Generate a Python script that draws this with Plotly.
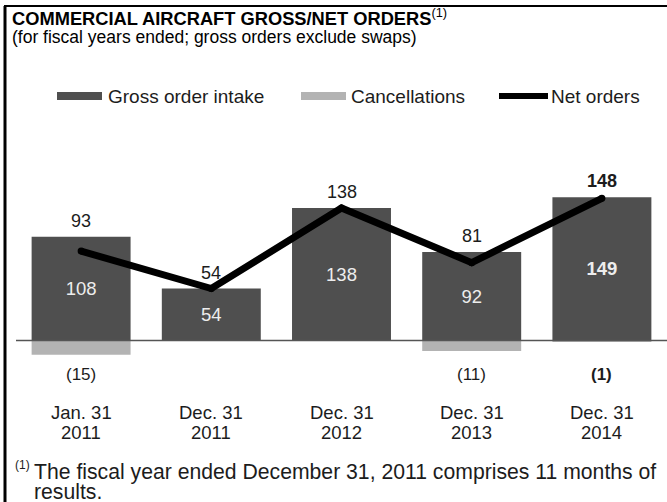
import plotly.graph_objects as go

# Fiscal periods (category keys) and their two-line tick labels
periods = ["Jan. 31 2011", "Dec. 31 2011", "Dec. 31 2012", "Dec. 31 2013", "Dec. 31 2014"]
period_day = ["Jan. 31", "Dec. 31", "Dec. 31", "Dec. 31", "Dec. 31"]
period_year = ["2011", "2011", "2012", "2013", "2014"]

# Orders (number of aircraft)
gross_orders = [108, 54, 138, 92, 149]
cancellations = [-15, 0, 0, -11, -1]
net_orders = [93, 54, 138, 81, 148]

W, H = 667, 502
FONT = "Liberation Sans, Arial, sans-serif"
INK = "#1c1c1c"
DARK = "#4f4f4f"
LIGHT = "#b3b3b3"


def px(x):
    """Pixel x -> paper x."""
    return x / W


def py(y):
    """Pixel y (from top) -> paper y."""
    return 1 - y / H


def bold_last(values, fmt="{}"):
    out = [fmt.format(v) for v in values]
    out[-1] = "<b>" + out[-1] + "</b>"
    return out


fig = go.Figure()

fig.add_trace(go.Bar(
    x=periods, y=gross_orders, name="Gross order intake",
    marker=dict(color=DARK, line=dict(width=0)), width=0.76,
    text=bold_last(gross_orders), textposition="inside",
    insidetextanchor="middle", textangle=0,
    textfont=dict(family=FONT, size=18.5, color="#ededed"),
    showlegend=False, hoverinfo="skip",
))
fig.add_trace(go.Bar(
    x=periods, y=cancellations, name="Cancellations",
    marker=dict(color=LIGHT, line=dict(width=0)), width=0.76,
    showlegend=False, hoverinfo="skip",
))
fig.add_trace(go.Scatter(
    x=periods, y=net_orders, name="Net orders", mode="lines+markers",
    line=dict(color="black", width=7),
    marker=dict(color="black", size=7),
    showlegend=False, hoverinfo="skip",
))

annotations = []

# Net order values above each column
net_text = bold_last(net_orders)
for p, g, n, t in zip(periods, gross_orders, net_orders, net_text):
    annotations.append(dict(
        x=p, y=max(g, n), xref="x", yref="y", text=t, showarrow=False,
        yanchor="middle", yshift=16, font=dict(family=FONT, size=18, color=INK),
    ))

# Cancellation values below the baseline
cancel_text = ["" if c == 0 else "({})".format(-c) for c in cancellations]
cancel_text[-1] = "<b>" + cancel_text[-1] + "</b>" if cancel_text[-1] else ""
for p, t in zip(periods, cancel_text):
    if t:
        annotations.append(dict(
            x=p, y=0, xref="x", yref="y", text=t, showarrow=False,
            yanchor="middle", yshift=-34, font=dict(family=FONT, size=17, color=INK),
        ))

# Two-line period labels
for p, d, yr in zip(periods, period_day, period_year):
    annotations.append(dict(x=p, y=py(412), xref="x", yref="paper", text=d,
                            showarrow=False, yanchor="middle",
                            font=dict(family=FONT, size=18.5, color=INK)))
    annotations.append(dict(x=p, y=py(432), xref="x", yref="paper", text=yr,
                            showarrow=False, yanchor="middle",
                            font=dict(family=FONT, size=18.5, color=INK)))

# Title and subtitle
annotations.append(dict(
    x=px(10), y=py(17), xref="paper", yref="paper", xanchor="left", yanchor="middle",
    text="<b>COMMERCIAL AIRCRAFT GROSS/NET ORDERS</b><sup>(1)</sup>", showarrow=False,
    font=dict(family=FONT, size=18.3, color="black"),
))
annotations.append(dict(
    x=px(10), y=py(37), xref="paper", yref="paper", xanchor="left", yanchor="middle",
    text="(for fiscal years ended; gross orders exclude swaps)", showarrow=False,
    font=dict(family=FONT, size=17.5, color="black"),
))

# Legend
legend_y = 96
annotations += [
    dict(x=px(106), y=py(legend_y), xref="paper", yref="paper", xanchor="left",
         yanchor="middle", text="Gross order intake", showarrow=False,
         font=dict(family=FONT, size=19, color=INK)),
    dict(x=px(349), y=py(legend_y), xref="paper", yref="paper", xanchor="left",
         yanchor="middle", text="Cancellations", showarrow=False,
         font=dict(family=FONT, size=19, color=INK)),
    dict(x=px(549), y=py(legend_y), xref="paper", yref="paper", xanchor="left",
         yanchor="middle", text="Net orders", showarrow=False,
         font=dict(family=FONT, size=19, color=INK)),
]

# Footnote
annotations += [
    dict(x=px(13), y=py(465), xref="paper", yref="paper", xanchor="left",
         yanchor="middle", text="(1)", showarrow=False,
         font=dict(family=FONT, size=12, color=INK)),
    dict(x=px(32), y=py(472), xref="paper", yref="paper", xanchor="left",
         yanchor="middle",
         text="The fiscal year ended December 31, 2011 comprises 11 months of",
         showarrow=False, font=dict(family=FONT, size=21.2, color=INK)),
    dict(x=px(32), y=py(491), xref="paper", yref="paper", xanchor="left",
         yanchor="middle", text="results.", showarrow=False,
         font=dict(family=FONT, size=21.2, color=INK)),
]

shapes = [
    # Baseline
    dict(type="line", xref="x domain", yref="y", x0=0, x1=1, y0=0, y1=0,
         line=dict(color="#555555", width=1.5), layer="above"),
    # Frame (left and top edges)
    dict(type="line", xref="paper", yref="paper", x0=px(5), x1=px(5), y0=py(6), y1=0,
         line=dict(color="black", width=3)),
    dict(type="line", xref="paper", yref="paper", x0=px(4), x1=1, y0=py(6), y1=py(6),
         line=dict(color="black", width=2)),
    # Legend swatches
    dict(type="rect", xref="paper", yref="paper", x0=px(57), x1=px(102),
         y0=py(100), y1=py(92), fillcolor=DARK, line=dict(width=0)),
    dict(type="rect", xref="paper", yref="paper", x0=px(301), x1=px(346),
         y0=py(100), y1=py(92), fillcolor=LIGHT, line=dict(width=0)),
    dict(type="line", xref="paper", yref="paper", x0=px(499), x1=px(548),
         y0=py(96), y1=py(96), line=dict(color="black", width=6)),
]

fig.update_layout(
    width=W, height=H,
    margin=dict(l=0, r=0, t=0, b=0),
    paper_bgcolor="white", plot_bgcolor="white",
    barmode="relative", bargap=0.24,
    showlegend=False,
    xaxis=dict(domain=[px(16), 1], range=[-0.5, 4.5], type="category",
               categoryorder="array", categoryarray=periods,
               showticklabels=False, showgrid=False, zeroline=False,
               showline=False, ticks=""),
    yaxis=dict(domain=[py(398), py(158)], range=[-60, 190], visible=False,
               showgrid=False, zeroline=False),
    annotations=annotations,
    shapes=shapes,
    uniformtext=dict(minsize=8, mode="show"),
)

fig.write_html("out.html")
